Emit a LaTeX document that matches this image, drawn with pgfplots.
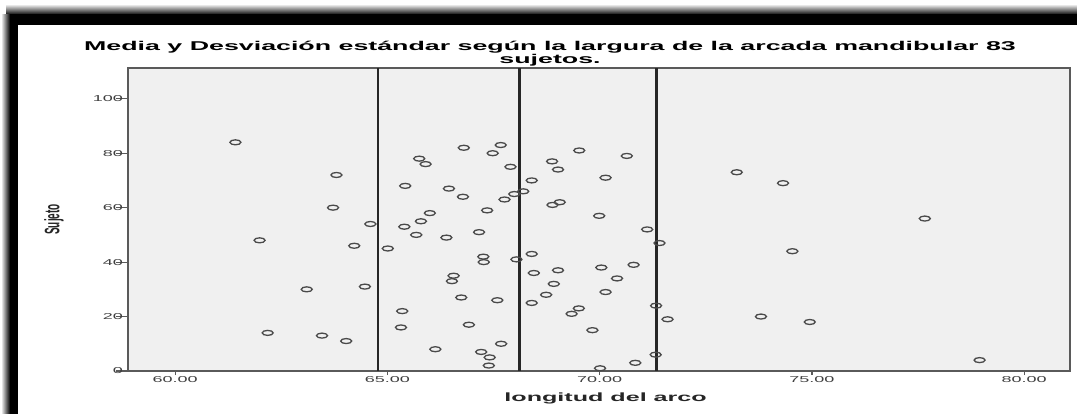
\documentclass[border=0pt]{standalone}
\usepackage{pgfplots}
\pgfplotsset{compat=1.18}
\usepackage{graphicx}
\usepackage{fontspec}
\setmainfont{Liberation Sans}[FakeStretch=2.1]
\newfontfamily\plainsans{Liberation Sans}
\definecolor{bgplot}{HTML}{F0F0F0}
\definecolor{axgray}{HTML}{5A5A5A}
\definecolor{txtgray}{HTML}{404040}
\definecolor{mkgray}{HTML}{4A4A4A}
\begin{document}
\begin{tikzpicture}
\useasboundingbox (0,0) rectangle (1077bp,414bp);
\fill[white] (0,0) rectangle (1077bp,414bp);
\shade[top color=white, bottom color=black] (6bp,399bp) rectangle (1077bp,410bp);
\fill[black] (10bp,389bp) rectangle (1077bp,400bp);
\shade[left color=white, right color=black] (1bp,0) rectangle (10bp,399bp);
\fill[black] (10bp,0) rectangle (18bp,400bp);
\fill[white] (18bp,0) rectangle (1077bp,389bp);
\begin{axis}[
  at={(128bp,43bp)}, anchor=south west,
  scale only axis, width=942bp, height=303bp,
  xmin=58.89, xmax=81.08, ymin=0, ymax=111.3,
  xtick={60,65,70,75,80}, ytick={0,20,40,60,80,100},
  minor tick num=0,
  tick pos=left, tick align=outside,
  major tick length=4bp,
  ytick style={/pgfplots/major tick length=12bp},
  tick style={axgray, line width=1.2bp},
  axis line style={axgray, line width=1.2bp},
  axis background/.style={fill=bgplot},
  /pgf/number format/assume math mode=true,
  x tick label style={/pgf/number format/fixed, /pgf/number format/fixed zerofill, /pgf/number format/precision=2},
  ticklabel style={font=\fontsize{8.6}{10}\selectfont, text=txtgray},
  xticklabel style={inner sep=1bp},
  yticklabel style={inner sep=1bp},
  title={Media y Desviación estándar según la largura de la arcada mandibular 83\\sujetos.},
  title style={font=\fontsize{12.8}{13}\selectfont\bfseries, align=center, at={(rel axis cs:0.448,1)}, anchor=south, inner sep=0pt, yshift=-4bp},
  xlabel={longitud del arco},
  xlabel style={font=\fontsize{12}{13}\selectfont\bfseries, text=black!85, at={(rel axis cs:0.507,0)}, anchor=center, yshift=-27bp},
  ylabel={\scalebox{1}[2.1]{\plainsans\bfseries Sujeto}},
  ylabel style={font=\fontsize{10}{11}\selectfont, text=black!85, at={(rel axis cs:-0.0786,0.5)}, anchor=center},
]
\addplot[black!85, line width=2.4bp, forget plot] coordinates {(64.78,0) (64.78,111.3)};
\addplot[black!85, line width=2.4bp, forget plot] coordinates {(68.11,0) (68.11,111.3)};
\addplot[black!85, line width=2.4bp, forget plot] coordinates {(71.34,0) (71.34,111.3)};
\addplot[only marks, mark=o, mark size=2.5bp, mark options={xscale=2.2, draw=mkgray, line width=1.3bp}] coordinates {
(70.01,1) (67.39,2) (70.84,3) (78.95,4) (67.41,5) (71.32,6) (67.21,7) (66.13,8) (67.68,10) (64.03,11)
(63.46,13) (62.18,14) (69.83,15) (65.32,16) (66.92,17) (74.95,18) (71.60,19) (73.80,20) (69.34,21) (65.35,22)
(69.51,23) (71.33,24) (68.40,25) (67.59,26) (66.74,27) (68.74,28) (70.14,29) (63.10,30) (64.47,31) (68.92,32)
(66.52,33) (70.41,34) (66.56,35) (68.45,36) (69.02,37) (70.04,38) (70.80,39) (67.27,40) (68.04,41) (67.26,42)
(68.40,43) (74.54,44) (65.01,45) (64.22,46) (71.41,47) (61.99,48) (66.39,49) (65.68,50) (67.16,51) (71.12,52)
(65.40,53) (64.60,54) (65.79,55) (77.66,56) (69.99,57) (66.00,58) (67.35,59) (63.72,60) (68.89,61) (69.06,62)
(67.76,63) (66.78,64) (67.99,65) (68.20,66) (66.45,67) (65.42,68) (74.32,69) (68.40,70) (70.14,71) (63.80,72)
(73.23,73) (69.02,74) (67.90,75) (65.90,76) (68.88,77) (65.75,78) (70.64,79) (67.48,80) (69.52,81) (66.80,82)
(67.67,83) (61.42,84)
};
\end{axis}
\end{tikzpicture}
\end{document}
